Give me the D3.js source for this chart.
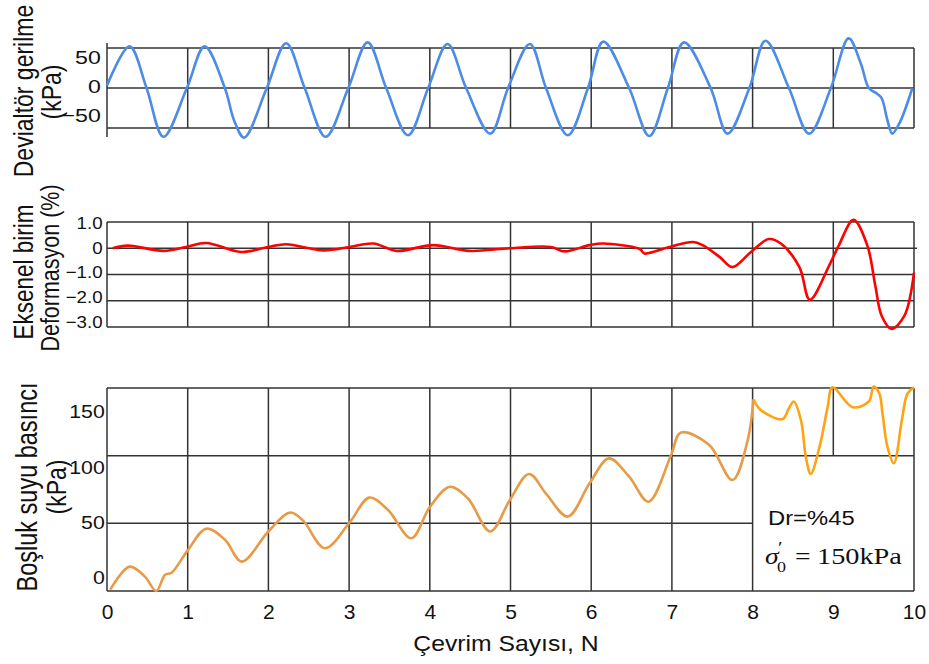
<!DOCTYPE html>
<html>
<head>
<meta charset="utf-8">
<script src="https://cdn.jsdelivr.net/npm/d3@7"></script>
<style>
body{margin:0;background:#fff;}
svg{display:block;font-family:"Liberation Sans",Arial,sans-serif;}
</style>
</head>
<body>
<svg id="chart" width="929" height="664"></svg>
<script>
// Çevrim sayısı ekseni
var cycleTicks = [0,1,2,3,4,5,6,7,8,9,10];

// deviatör gerilme (kPa) - [N, değer]
var deviator = [
  [0,3],[0.28,52],[0.49,0],[0.70,-61],[0.99,0],
  [1.21,52],[1.46,0],[1.58,-42],[1.70,-62],[1.98,0],
  [2.22,56],[2.45,0],[2.71,-61],[2.99,0],
  [3.23,57],[3.46,0],[3.73,-59],[3.98,0],
  [4.22,55],[4.45,0],[4.75,-57],[4.97,0],
  [5.24,55],[5.44,0],[5.71,-59],[5.96,0],
  [6.15,58],[6.47,0],[6.72,-60],[6.95,0],
  [7.15,57],[7.48,0],[7.69,-57],[7.96,0],
  [8.16,59],[8.45,0],[8.70,-57],[8.97,0],
  [9.19,62],[9.34,31],[9.44,0],[9.54,-7],[9.60,-13],[9.67,-40],[9.73,-57],[9.82,-44],[9.98,0]
];
// eksenel birim deformasyon (%)
var strain = [
  [0.07,0],[0.26,0.1],[0.70,-0.1],[0.98,0.05],[1.23,0.2],[1.66,-0.14],[2.0,0.05],[2.22,0.15],
  [2.68,-0.08],[3.01,0.05],[3.30,0.18],[3.59,-0.1],[4.04,0.12],[4.49,-0.1],[4.99,0],[5.5,0.05],
  [5.67,-0.12],[5.98,0.12],[6.15,0.18],[6.58,0],[6.62,-0.08],[6.66,-0.2],[6.97,0.05],[7.26,0.24],
  [7.38,0.12],[7.59,-0.33],[7.75,-0.72],[7.98,-0.14],[8.20,0.35],[8.35,0.18],[8.58,-0.72],[8.71,-1.96],
  [8.95,-0.65],[9.07,0.12],[9.25,1.08],[9.42,0.12],[9.52,-1.42],[9.60,-2.58],[9.72,-3.07],[9.88,-2.58],[10.0,-0.93]
];
// boşluk suyu basıncı (kPa), 8. çevrime kadar
var poreA = [
  [0.04,1],[0.28,18],[0.47,10.6],[0.61,0],[0.72,12],[0.80,13.5],[1.0,30],[1.23,46],[1.46,38],[1.67,21.7],
  [2.0,44],[2.27,58],[2.43,52],[2.70,31.6],[3.01,51],[3.25,69],[3.48,60],[3.77,39],[4.0,62],[4.25,77],
  [4.47,68.5],[4.75,44],[4.99,67],[5.23,86.5],[5.44,72],[5.71,55],[5.98,79.6],[6.22,98],[6.47,84.5],
  [6.71,66],[6.99,100.5],[7.11,117],[7.46,108],[7.75,82],[7.94,111.6],[8.01,141.7]
];
// 8. çevrimden sonra
var poreB = [
  [8.01,141.7],[8.10,133.8],[8.37,127],[8.45,135],[8.51,140],[8.60,126],[8.66,99],[8.72,86.5],[8.83,106.7],
  [8.93,136],[8.99,150.5],[9.24,135.8],[9.44,140],[9.50,151],[9.57,146],[9.61,131],[9.67,106.7],[9.75,94.4],
  [9.85,126.4],[9.92,146],[10.0,150.5]
];

var devGrid = [-50,0,50], devLabels = [50,0,-50];
var strGrid = [1,0,-1,-2,-3], strLabels = [1,0,-1,-2,-3];
var poreGrid = [0,100,150], poreLabels = [150,100,50,0];

var svg = d3.select("#chart");
var x = d3.scaleLinear().domain([0,10]).range([107,914]);
var gridCol = "#333";

// yazıları biraz yatay gerdir
function txt(g, px, py, s, size, sx, anchor, rot) {
  return g.append("text")
    .attr("transform", "translate(" + px + "," + py + ") scale(" + sx + ",1)" + (rot ? " rotate(-90)" : ""))
    .attr("text-anchor", anchor || "middle")
    .style("font-size", size + "px")
    .style("fill", "#111")
    .text(s);
}
function hline(y0, x0, x1) {
  svg.append("line").attr("x1", x0).attr("x2", x1).attr("y1", y0).attr("y2", y0)
    .attr("stroke", gridCol).attr("stroke-width", 1.5);
}
function vline(xv, y0, y1) {
  svg.append("line").attr("x1", xv).attr("x2", xv).attr("y1", y0).attr("y2", y1)
    .attr("stroke", gridCol).attr("stroke-width", 1.5);
}
function leftLabels(scale, vals, fmt, size, sx, pad) {
  var ax = svg.append("g").attr("transform", "translate(" + x(0) + ",0)")
    .call(d3.axisLeft(scale).tickValues(vals).tickSize(0).tickPadding(pad).tickFormat(fmt));
  ax.select(".domain").remove();
  ax.selectAll("text").attr("transform", "scale(" + sx + ",1)")
    .style("font-size", size + "px").style("font-family", "Liberation Sans, Arial, sans-serif").style("fill", "#111");
}

// ---- panel 1: deviatör gerilme
var yDev = d3.scaleLinear().domain([-50,50]).range([128,48]);
var yDevLab = d3.scaleLinear().domain([-50,50]).range([116,58]);
devGrid.forEach(function (v) { hline(yDev(v), x(0), x(10)); });
cycleTicks.slice(1).forEach(function (c) { vline(x(c), yDev(50), yDev(-50)); });
vline(x(0), 43, 137);
leftLabels(yDevLab, devLabels, d3.format("d"), 18.5, 1.25, 5);

svg.append("path").datum(deviator)
  .attr("fill", "none").attr("stroke", "#4d8ce6").attr("stroke-width", 2.6)
  .attr("d", d3.line().x(function (d) { return x(d[0]); }).y(function (d) { return yDev(d[1]); })
    .curve(d3.curveCatmullRom.alpha(0.5)));

txt(svg, 33, 91, "Devialtör gerilme", 23, 1.22, "middle", true);
txt(svg, 61, 92, "(kPa)", 23, 1.22, "middle", true);

// ---- panel 2: eksenel deformasyon
var yStr = d3.scaleLinear().domain([-3,1]).range([327,222]);
var yStrLab = d3.scaleLinear().domain([-3,1]).range([322,223]);
strGrid.forEach(function (v) { hline(yStr(v), x(0), x(10) + (v === 0 ? 3 : 0)); });
cycleTicks.forEach(function (c) { vline(x(c), yStr(1), yStr(-3)); });
leftLabels(yStrLab, strLabels, function (d) { return d === 0 ? "0" : d3.format(".1f")(d); }, 17, 1.1, 4);

svg.append("path").datum(strain)
  .attr("fill", "none").attr("stroke", "#ff0000").attr("stroke-width", 2.6)
  .attr("d", d3.line().x(function (d) { return x(d[0]); }).y(function (d) { return yStr(d[1]); })
    .curve(d3.curveCatmullRom.alpha(0.5)));

txt(svg, 33, 272, "Eksenel birim", 22.5, 1.22, "middle", true);
txt(svg, 59, 268, "Deformasyon (%)", 21.5, 1.22, "middle", true);

// ---- panel 3: boşluk suyu basıncı
var yPore = d3.scaleLinear().domain([0,150]).range([591,388]);
var yPoreLab = d3.scaleLinear().domain([0,150]).range([578,412]);
poreGrid.forEach(function (v) { hline(yPore(v), x(0), x(10)); });
hline(yPore(50), x(0), x(8));
cycleTicks.forEach(function (c) {
  if (c === 9) vline(x(c), yPore(150), yPore(100));
  else vline(x(c), yPore(150), yPore(0));
});
leftLabels(yPoreLab, poreLabels, d3.format("d"), 18.5, 1.15, 2);

var poreLine = d3.line().x(function (d) { return x(d[0]); }).y(function (d) { return yPore(d[1]); })
  .curve(d3.curveCatmullRom.alpha(0.5));
svg.append("path").datum(poreA)
  .attr("fill", "none").attr("stroke", "#e89a45").attr("stroke-width", 2.6).attr("d", poreLine);
svg.append("path").datum(poreB)
  .attr("fill", "none").attr("stroke", "#ffa313").attr("stroke-width", 2.6).attr("d", poreLine);

var xAx = svg.append("g").attr("transform", "translate(0," + yPore(0) + ")")
  .call(d3.axisBottom(x).tickValues(cycleTicks).tickSize(0).tickPadding(13).tickFormat(d3.format("d")));
xAx.select(".domain").remove();
xAx.selectAll("text").style("font-size", "21px").style("font-family", "Liberation Sans, Arial, sans-serif").style("fill", "#111");

txt(svg, 37, 487, "Boşluk suyu basıncı", 23.5, 1.22, "middle", true);
txt(svg, 66, 487, "(kPa)", 23, 1.22, "middle", true);
txt(svg, 506, 651, "Çevrim Sayısı, N", 21.5, 1.15, "middle", false);

// not kutusu
txt(svg, 768, 525, "Dr=%45", 19.5, 1.22, "start", false);
var sig = svg.append("g").style("font-family", "'Liberation Serif','DejaVu Serif',serif");
txt(sig, 765, 564, "σ", 24, 1.15, "start", false).style("font-style", "italic");
txt(sig, 778, 553, "′", 16, 1.3, "start", false);
txt(sig, 777, 572, "0", 15, 1.2, "start", false);
txt(sig, 795, 564, "=", 24, 1.15, "start", false);
txt(sig, 817, 564, "150kPa", 24, 1.18, "start", false);
</script>
</body>
</html>
